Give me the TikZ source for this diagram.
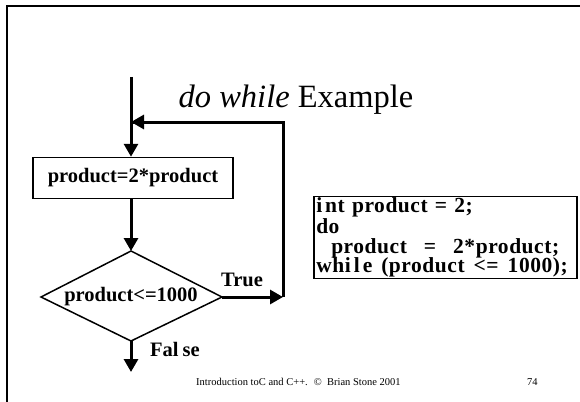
\documentclass[tikz,border=0pt]{standalone}
\usepackage{fontspec}
\setmainfont{Liberation Serif}
\newfontfamily\codefont[LetterSpace=2.5]{Liberation Serif}
\usetikzlibrary{arrows.meta}
\begin{document}
\begin{tikzpicture}[x=1pt,y=-1pt,
  flow/.style={line width=3pt,-{Triangle[length=13pt,width=14pt]}},
  plain/.style={line width=3pt},
  outline/.style={line width=1.5pt,line join=miter},
  lbl/.style={font=\fontsize{20.5}{22}\selectfont\bfseries,inner sep=0pt},
  procbox/.style={draw,line width=1.5pt,minimum width=200pt,minimum height=41pt,inner sep=0pt,font=\fontsize{20.5}{22}\selectfont\bfseries},
  codebox/.style={draw,line width=1.5pt,inner xsep=2.5pt,inner ysep=0pt,anchor=north west,minimum height=82pt,text width=258pt,align=left,font=\codefont\fontsize{21.5}{19.5}\selectfont\bfseries},
  foot/.style={font=\fontsize{10.5}{12}\selectfont,inner sep=0pt,anchor=base west}]
\useasboundingbox (0,0) rectangle (580,401);
% slide frame
\coordinate (fa) at (7,403);
\coordinate (fb) at (7,6);
\coordinate (fc) at (585,6);
\draw[line width=2pt] (fa) -- (fb) -- (fc);
% title
\node[inner sep=0pt,anchor=base,font=\fontsize{32.5}{34}\selectfont] (title) at (296,107) {\textit{do while} Example};
% flowchart
\coordinate (start) at (131,77);
\node[procbox] (proc) at (133,178) {product=2*product};
\coordinate (dtop) at (131,251);
\coordinate (dright) at (222,297);
\coordinate (dbot) at (131,341);
\coordinate (dleft) at (41,297);
\draw[outline] (dtop) -- (dright) -- (dbot) -- (dleft) -- cycle;
\node[lbl] (dec) at (131,297) {product<=1000};
\coordinate (merge) at (131,122);
\coordinate (rt) at (283,297);
\coordinate (rtop) at (283,122);
\coordinate (fend) at (131,372);
\draw[flow] (start) -- (proc.north -| start);
\draw[flow] (proc.south -| dtop) -- (dtop);
\draw[flow] (dright) -- (rt);
\draw[plain] (rt) -- (rtop) -- ([xshift=1.5pt]rtop -| merge);
\draw[flow] (rtop) -- (merge);
\draw[flow] (dbot) -- (fend);
\node[lbl,anchor=base] (ltrue) at (242,286) {True};
\node[lbl,anchor=base west] (lfalse) at (150,356) {Fal\kern4pt se};
% code
\node[codebox] (code) at (313,195.5) {\vspace*{2pt}i\kern3pt nt product = 2;\\do\\\hspace*{15pt}product\hspace{17pt}=\hspace{17pt}2*product;\\whi\kern3pt l\kern3pt e\hspace{9pt}(product\hspace{9pt}<=\hspace{9pt}1000);};
% footer
\node[foot] (ft) at (196,385) {Introduction toC and C++. \ © \ Brian Stone 2001};
\node[foot] (pg) at (527,385) {74};
\end{tikzpicture}
\end{document}
